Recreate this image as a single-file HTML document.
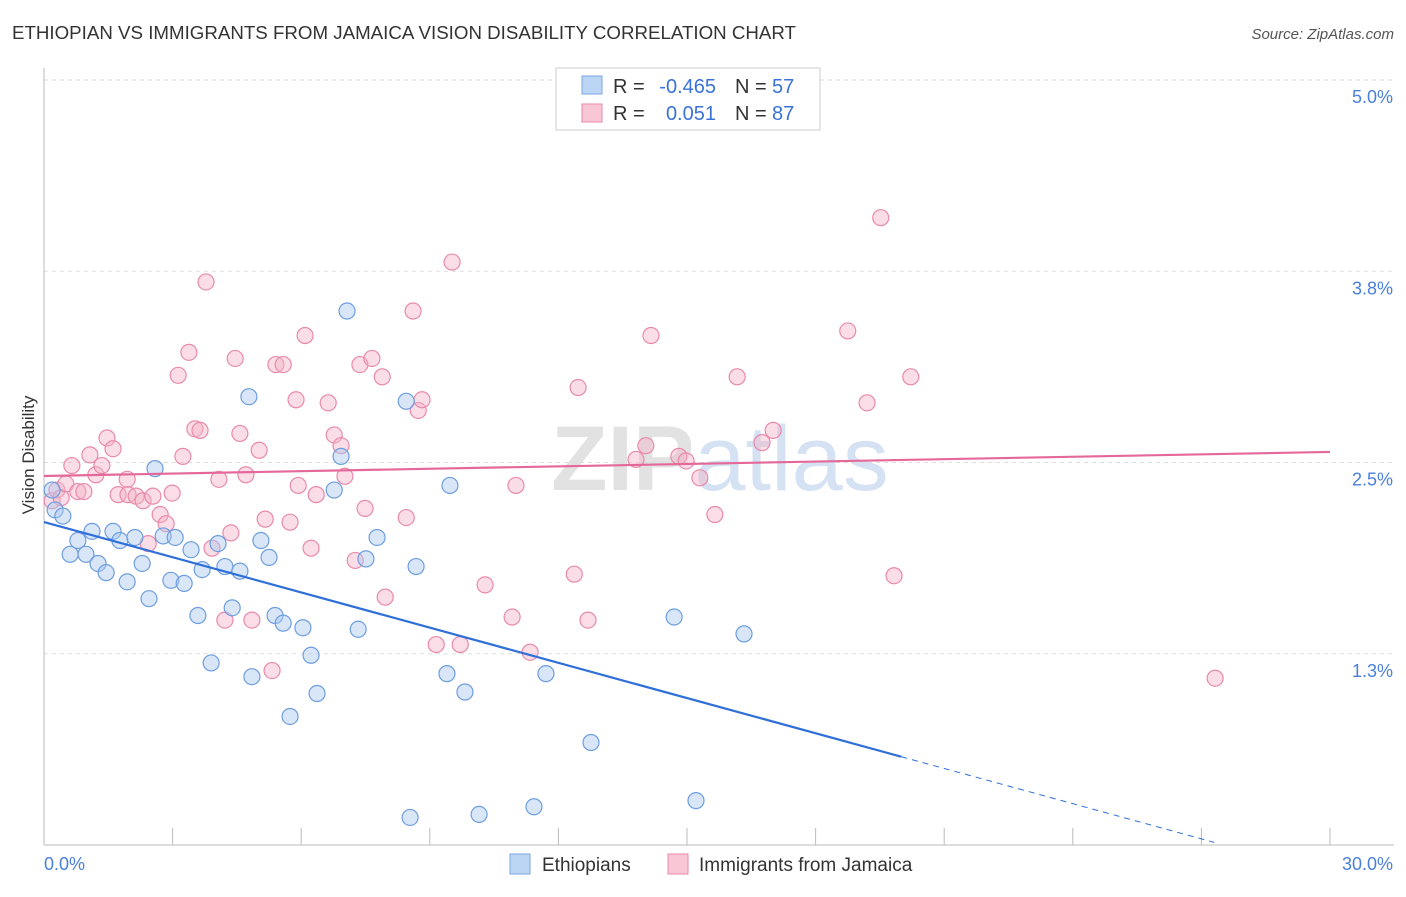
<!DOCTYPE html>
<html><head><meta charset="utf-8"><style>
body{margin:0;background:#fff;font-family:"Liberation Sans",sans-serif;}
svg text{font-family:"Liberation Sans",sans-serif;}
</style></head><body>
<svg id="chart" width="1406" height="892" viewBox="0 0 1406 892" xmlns="http://www.w3.org/2000/svg">
<text x="12" y="39" font-size="18" fill="#333" textLength="784" lengthAdjust="spacingAndGlyphs">ETHIOPIAN VS IMMIGRANTS FROM JAMAICA VISION DISABILITY CORRELATION CHART</text>
<text x="1394" y="39" font-size="15" fill="#555" text-anchor="end" font-style="italic">Source: ZipAtlas.com</text>
<text x="720" y="490" font-size="92" text-anchor="middle" fill="#d8d8d8" opacity="0.6" font-family="Liberation Serif"><tspan font-weight="bold" fill="#cfcfcf">ZIP</tspan><tspan fill="#b8d0ec">atlas</tspan></text>
<g id="grid"></g>
<g id="axes"></g>
<g id="marks"></g>
<text transform="translate(34,455) rotate(-90)" font-size="17" fill="#333" text-anchor="middle">Vision Disability</text>
<g>
<rect x="556" y="68" width="264" height="62" fill="#fff" stroke="#ccc"/>
<rect x="582" y="76" width="20" height="18" fill="#bcd5f5" stroke="#7aa7e0"/>
<rect x="582" y="104" width="20" height="18" fill="#f9c6d5" stroke="#e98aab"/>
<text x="613" y="93" font-size="20" fill="#333">R =</text>
<text x="716" y="93" font-size="20" fill="#3a72d8" text-anchor="end">-0.465</text>
<text x="735" y="93" font-size="20" fill="#333">N =</text>
<text x="772" y="93" font-size="20" fill="#3a72d8">57</text>
<text x="613" y="120" font-size="20" fill="#333">R =</text>
<text x="716" y="120" font-size="20" fill="#3a72d8" text-anchor="end">0.051</text>
<text x="735" y="120" font-size="20" fill="#333">N =</text>
<text x="772" y="120" font-size="20" fill="#3a72d8">87</text>
</g>
<g>
<rect x="510" y="854" width="20" height="20" fill="#bcd5f5" stroke="#7aa7e0"/>
<text x="542" y="871" font-size="19" fill="#333">Ethiopians</text>
<rect x="668" y="854" width="20" height="20" fill="#f9c6d5" stroke="#e98aab"/>
<text x="699" y="871" font-size="19" fill="#333">Immigrants from Jamaica</text>
</g>
</svg>
<script>
const blueX=[0.19,0.26,0.44,0.61,0.79,0.98,1.12,1.26,1.45,1.61,1.77,1.94,2.12,2.29,2.45,2.59,2.78,2.96,3.06,3.27,3.43,3.59,3.69,3.90,4.06,4.22,4.39,4.57,4.85,4.78,5.06,5.25,5.39,5.58,5.74,6.04,6.23,6.37,6.77,6.93,7.07,7.33,7.51,7.77,8.45,8.54,8.68,9.40,9.47,9.82,10.15,11.43,11.71,12.76,14.70,15.21,16.33];
const blueY=[2.32,2.19,2.15,1.90,1.99,1.90,2.05,1.84,1.78,2.05,1.99,1.72,2.01,1.84,1.61,2.46,2.02,1.73,2.01,1.71,1.93,1.50,1.80,1.19,1.97,1.82,1.55,1.79,1.10,2.93,1.99,1.88,1.50,1.45,0.84,1.42,1.24,0.99,2.32,2.54,3.49,1.41,1.87,2.01,2.90,0.18,1.82,1.12,2.35,1.00,0.20,0.25,1.12,0.67,1.49,0.29,1.38];
const pinkX=[0.19,0.30,0.40,0.51,0.65,0.79,0.93,1.07,1.21,1.35,1.47,1.61,1.73,1.94,1.96,2.15,2.31,2.43,2.54,2.71,2.85,2.99,3.13,3.24,3.38,3.52,3.64,3.78,3.92,4.08,4.22,4.36,4.46,4.57,4.71,4.85,5.02,5.16,5.32,5.41,5.58,5.74,5.88,5.93,6.09,6.23,6.35,6.63,6.77,6.93,7.02,7.26,7.37,7.49,7.65,7.89,7.96,8.45,8.61,8.73,8.82,9.15,9.52,9.71,10.29,10.92,11.01,11.34,12.37,12.46,12.69,13.81,14.04,14.16,14.81,14.98,15.30,15.65,16.17,16.75,17.01,18.75,19.20,19.52,19.83,20.22,27.32];
const pinkY=[2.25,2.32,2.27,2.36,2.48,2.31,2.31,2.55,2.42,2.48,2.66,2.59,2.29,2.39,2.29,2.28,2.25,1.97,2.28,2.16,2.10,2.30,3.07,2.54,3.22,2.72,2.71,3.68,1.94,2.39,1.47,2.04,3.18,2.69,2.42,1.47,2.58,2.13,1.14,3.14,3.14,2.11,2.91,2.35,3.33,1.94,2.29,2.89,2.68,2.61,2.41,1.86,3.14,2.20,3.18,3.06,1.62,2.14,3.49,2.84,2.91,1.31,3.81,1.31,1.70,1.49,2.35,1.26,1.77,2.99,1.47,2.52,2.61,3.33,2.54,2.51,2.40,2.16,3.06,2.63,2.71,3.36,2.89,4.10,1.76,3.06,1.09];
const blueTrend=[2.111,-0.0767];
const pinkTrend=[2.412,0.00523];
const yTicks=[1.25,2.5,3.75,5.0];
const yTickLabels=["1.3%","2.5%","3.8%","5.0%"];
const xTicks=[0,3,6,9,12,15,18,21,24,27,30];
const xTickLabels=["0.0%","30.0%"];

const NS="http://www.w3.org/2000/svg";
const X0=44,X1=1330,Y0=845,Ymax=80;
const sx=v=>X0+(v/30)*(X1-X0);
const sy=v=>Y0-(v/5)*(Y0-Ymax);
function mk(tag,attrs,parent){const e=document.createElementNS(NS,tag);for(const k in attrs)e.setAttribute(k,attrs[k]);parent.appendChild(e);return e;}
const grid=document.getElementById('grid'),axes=document.getElementById('axes'),marks=document.getElementById('marks');
yTicks.forEach((t,i)=>{
  const l=mk('line',{x1:X0,x2:1394,y1:sy(t),y2:sy(t),stroke:'#ddd','stroke-dasharray':'4,4'},grid);
  
  
  const tx=mk('text',{x:1393,y:sy(t)+23,'font-size':18,fill:'#4a80dc','text-anchor':'end'},axes);
  tx.textContent=yTickLabels[i];
  
  
});
const ya=mk('line',{x1:X0,x2:X0,y1:68,y2:Y0,stroke:'#bbb'},axes);


const xa=mk('line',{x1:X0,x2:1394,y1:Y0,y2:Y0,stroke:'#bbb'},axes);


xTicks.forEach(t=>{
  const l=mk('line',{x1:sx(t),x2:sx(t),y1:828,y2:Y0,stroke:'#bbb'},axes);
  
  
});
const xl0=mk('text',{x:44,y:870,'font-size':18,fill:'#4a80dc'},axes);
xl0.textContent=xTickLabels[0];


const xl1=mk('text',{x:1393,y:870,'font-size':18,fill:'#4a80dc','text-anchor':'end'},axes);
xl1.textContent=xTickLabels[1];



function pts(xs,ys,fill,stroke,name){xs.forEach((x,i)=>{
  const c=mk('circle',{cx:sx(x),cy:sy(ys[i]),r:8,fill:fill,'fill-opacity':0.45,stroke:stroke,'stroke-width':1.2},marks);
  
  
});}
pts(pinkX,pinkY,'#f5b3c8','#e98aab','point-jamaica');
pts(blueX,blueY,'#a9c8f0','#6d9ee0','point-ethiopians');
const bEnd=20;
const bl=mk('line',{x1:sx(0),y1:sy(blueTrend[0]),x2:sx(bEnd),y2:sy(blueTrend[0]+blueTrend[1]*bEnd),stroke:'#2f6fd8','stroke-width':2.2},marks);


const bx2=27.3;
const bd=mk('line',{x1:sx(bEnd),y1:sy(blueTrend[0]+blueTrend[1]*bEnd),x2:sx(bx2),y2:sy(blueTrend[0]+blueTrend[1]*bx2),stroke:'#2f6fd8','stroke-width':1,'stroke-dasharray':'6,5'},marks);


const pl=mk('line',{x1:sx(0),y1:sy(pinkTrend[0]),x2:sx(30),y2:sy(pinkTrend[0]+pinkTrend[1]*30),stroke:'#e4699a','stroke-width':2.2},marks);


</script>
</body></html>
